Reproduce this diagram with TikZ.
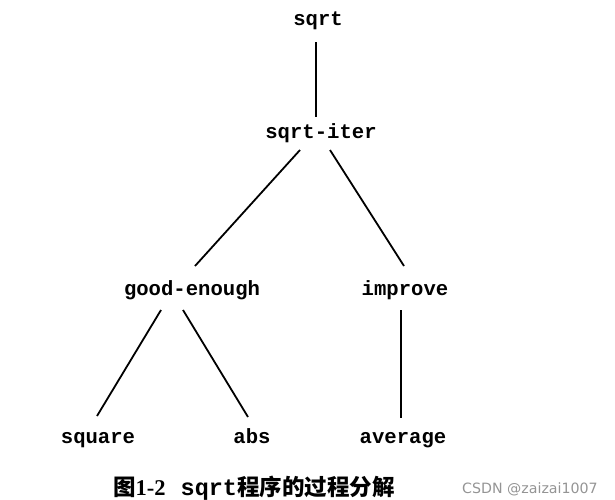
\documentclass[tikz,border=0pt]{standalone}
\usepackage{fontspec}
\setmonofont{Liberation Mono}
\newfontfamily\cjk{Noto Sans CJK SC}
\newfontfamily\serifb{Liberation Serif}
\newfontfamily\wm{DejaVu Sans}
\begin{document}
\begin{tikzpicture}[x=1pt,y=-1pt,
  fn/.style={font=\ttfamily\bfseries\fontsize{20.6}{22}\selectfont, inner sep=0pt, anchor=base},
  edge/.style={line width=1.8pt, black}]
\useasboundingbox (0,0) rectangle (615,499);
\node[fn] (sqrt) at (318,25) {sqrt};
\node[fn] (iter) at (321,138) {sqrt-iter};
\node[fn] (good) at (192,295) {good-enough};
\node[fn] (impr) at (405,295) {improve};
\node[fn] (sq) at (98,443) {square};
\node[fn] (abs) at (252,443) {abs};
\node[fn] (avg) at (403,443) {average};
\coordinate (a1) at (316,42); \coordinate (a2) at (316,117);
\coordinate (b1) at (300,150); \coordinate (b2) at (195,266);
\coordinate (c1) at (330,150); \coordinate (c2) at (404,266);
\coordinate (d1) at (161,310); \coordinate (d2) at (97,416);
\coordinate (e1) at (183,310); \coordinate (e2) at (248,417);
\coordinate (f1) at (401,310); \coordinate (f2) at (401,418);
\draw[edge] (a1) -- (a2);
\draw[edge] (b1) -- (b2);
\draw[edge] (c1) -- (c2);
\draw[edge] (d1) -- (d2);
\draw[edge] (e1) -- (e2);
\draw[edge] (f1) -- (f2);
\node[anchor=base west, inner sep=0pt] (cap) at (113,495) {{\cjk\bfseries\fontsize{22.5}{24}\selectfont 图}{\serifb\bfseries\fontsize{22.5}{24}\selectfont 1-2}\hspace{15pt}{\ttfamily\bfseries\fontsize{23.5}{24}\selectfont sqrt}{\cjk\bfseries\fontsize{22.5}{24}\selectfont 程序的过程分解}};
\node[anchor=base west, inner sep=0pt, text=black!42] (wm) at (462,493) {\wm\fontsize{14.2}{16}\selectfont CSDN @zaizai1007};
\end{tikzpicture}
\end{document}
